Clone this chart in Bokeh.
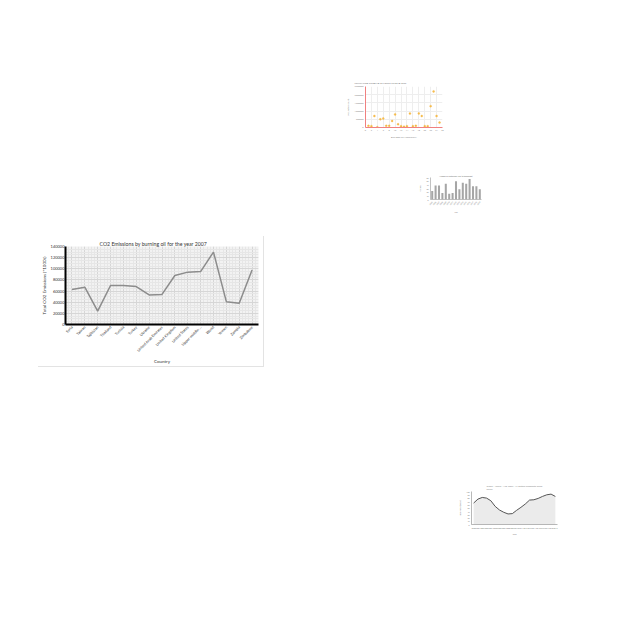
import math
from bokeh.plotting import figure
from bokeh.layouts import column, row
from bokeh.models import Spacer, FixedTicker, BasicTickFormatter
from bokeh.embed import file_html
from bokeh.resources import INLINE

# ---- main chart data ----
countries = ["Syria", "Taiwan", "Tajikistan", "Thailand", "Tunisia", "Turkey", "Ukraine",
             "United Arab Emirates", "United Kingdom", "United States", "Upper-middle-...",
             "World", "Yemen", "Zambia", "Zimbabwe"]
co2 = [63000, 67000, 24000, 70000, 70000, 68000, 53000, 54000, 88000, 94000, 95000,
       130000, 41000, 38000, 98000]
co2_ticks = [0, 20000, 40000, 60000, 80000, 100000, 120000, 140000]

# ---- scatter data ----
city_no = list(range(1, 26))
population = [100000, 80000, 700000, 20000, 500000, 550000, 100000, 100000, 400000, 800000,
              200000, 80000, 50000, 80000, 850000, 80000, 100000, 860000, 700000, 80000,
              80000, 1300000, 2200000, 700000, 300000]
pop_ticks = [0, 500000, 1000000, 1500000, 2000000, 2500000]
city_ticks = list(range(0, 27, 2))

# ---- bar data ----
bar_years = [str(y) for y in range(2005, 2020)]
bar_values = [23, 38, 38, 18, 43, 16, 18, 50, 28, 46, 43, 56, 36, 36, 28]

# ---- line data ----
line_years = list(range(2000, 2020))
line_values = [65, 77, 82, 80, 72, 55, 44, 37, 32, 33, 43, 52, 62, 74, 75, 79, 85, 90, 92, 85]

FONT = "Lato"


def style_title(fig, text, size, color, align="center", offset=0, standoff=0):
    fig.title.text = text
    fig.title.align = align
    fig.title.offset = offset
    fig.title.text_font = FONT
    fig.title.text_font_size = size
    fig.title.text_font_style = "normal"
    fig.title.text_color = color
    fig.title.standoff = standoff


def style_axis(ax, line_color, line_width, label_size, title_size, color, standoff=2):
    ax.axis_line_color = line_color
    ax.axis_line_width = line_width
    ax.major_tick_line_color = None
    ax.minor_tick_line_color = None
    ax.major_tick_out = 0
    ax.major_tick_in = 0
    ax.minor_tick_out = 0
    ax.minor_tick_in = 0
    ax.major_label_text_font = FONT
    ax.major_label_text_font_size = label_size
    ax.major_label_text_color = color
    ax.major_label_standoff = standoff
    ax.axis_label_text_font = FONT
    ax.axis_label_text_font_size = title_size
    ax.axis_label_text_font_style = "normal"
    ax.axis_label_text_color = color
    ax.axis_label_standoff = standoff


# ================= main chart =================
p = figure(width=226, height=131, output_backend="svg", toolbar_location=None,
           x_range=(-0.5, 14.5), y_range=(0, 140000),
           min_border_left=26, min_border_right=6, min_border_top=10, min_border_bottom=40,
           background_fill_color="#f2f2f2", border_fill_color="white",
           styles={"border-right": "1px solid #e3e3e3", "border-bottom": "1px solid #e3e3e3",
                   "box-sizing": "border-box"})
p.outline_line_color = None
style_title(p, "CO2 Emissions by burning oil for the year 2007", "5.2px", "#333333",
            align="left", offset=34)
p.yaxis.ticker = FixedTicker(ticks=co2_ticks, minor_ticks=list(range(0, 140001, 5000)))
p.yaxis.formatter = BasicTickFormatter(use_scientific=False)
p.xaxis.ticker = FixedTicker(ticks=list(range(len(countries))),
                             minor_ticks=[-0.5 + 0.25 * i for i in range(61)])
p.xaxis.major_label_overrides = {i: c for i, c in enumerate(countries)}
p.xaxis.major_label_orientation = math.pi / 4
style_axis(p.xaxis[0], "black", 2, "3.7px", "4.5px", "#333333", standoff=2)
style_axis(p.yaxis[0], "black", 2, "4px", "4.5px", "#333333", standoff=1)
p.xaxis.axis_label = "Country"
p.yaxis.axis_label = "Total CO2 Emissions (*1000t)"
p.grid.grid_line_color = "#d6d6d6"
p.grid.minor_grid_line_color = "#e6e6e6"
p.line(list(range(len(countries))), co2, line_color="#8c8c8c", line_width=1.5)

# ================= scatter chart =================
s = figure(width=107, height=66, output_backend="svg", toolbar_location=None,
           x_range=(0, 26), y_range=(0, 2500000),
           min_border_left=25, min_border_right=5, min_border_top=10, min_border_bottom=13,
           background_fill_color="white", border_fill_color="white")
s.outline_line_color = None
style_title(s, "POPULATION COUNT IN 25 METRO CITIES IN 2065", "2.2px", "#777777",
            align="left", offset=-11, standoff=4)
s.xaxis.ticker = FixedTicker(ticks=city_ticks)
s.yaxis.ticker = FixedTicker(ticks=pop_ticks)
s.yaxis.formatter = BasicTickFormatter(use_scientific=False)
style_axis(s.xaxis[0], "#f08080", 1, "2.2px", "2.2px", "#888888")
style_axis(s.yaxis[0], "#f08080", 1, "2.2px", "2.2px", "#888888")
s.xaxis.axis_label = "NUMBER OF METROCITY"
s.yaxis.axis_label = "Population Count"
s.grid.grid_line_color = "#eeeeee"
s.scatter(city_no, population, size=2, fill_color="#f7c04a", line_color="#f0a830",
          line_width=0.3)

# ================= bar chart =================
b = figure(width=69, height=44, output_backend="svg", toolbar_location=None,
           x_range=bar_years, y_range=(0, 60),
           min_border_left=9, min_border_right=4, min_border_top=5, min_border_bottom=13,
           background_fill_color="white", border_fill_color="white")
b.outline_line_color = None
style_title(b, "Number of Visitors per Year (in thousands)", "1.8px", "#666666")
b.vbar(x=bar_years, top=bar_values, width=0.6, fill_color="#a6a6a6", line_color=None)
b.xaxis.major_label_orientation = math.pi / 4
style_axis(b.xaxis[0], "#999999", 0.6, "1.8px", "1.8px", "#777777")
style_axis(b.yaxis[0], "#999999", 0.6, "1.8px", "1.8px", "#777777")
b.xaxis.axis_label = "Year"
b.yaxis.axis_label = "Visitors"
b.grid.grid_line_color = None

# ================= line chart =================
l = figure(width=106, height=58, output_backend="svg", toolbar_location=None,
           x_range=(1999.5, 2019.5), y_range=(0, 100),
           min_border_left=16, min_border_right=4, min_border_top=11, min_border_bottom=13,
           background_fill_color="white", border_fill_color="white")
l.outline_line_color = None
style_title(l, "Global - Annual - Avg. Index - All Sectors Composite Trend\nSeries", "2.2px",
            "#888888", standoff=2)
l.xaxis.ticker = FixedTicker(ticks=line_years)
l.yaxis.ticker = FixedTicker(ticks=list(range(0, 101, 10)))
style_axis(l.xaxis[0], "#888888", 0.6, "1.8px", "1.8px", "#777777")
style_axis(l.yaxis[0], "#888888", 0.6, "1.8px", "1.8px", "#777777")
l.xaxis.axis_label = "Years"
l.yaxis.axis_label = "Index value (points)"
l.grid.grid_line_color = None
l.varea(x=line_years, y1=[0] * len(line_years), y2=line_values, fill_color="#e3e3e3",
        fill_alpha=0.7)
l.line(line_years, line_values, line_color="#555555", line_width=1)

layout = column(
    Spacer(height=76),
    row(Spacer(width=340), s),
    Spacer(height=30),
    row(Spacer(width=416), b),
    Spacer(height=20),
    row(Spacer(width=38), p),
    Spacer(height=113),
    row(Spacer(width=455), l),
)

open("out.html", "w").write(file_html(layout, INLINE))
